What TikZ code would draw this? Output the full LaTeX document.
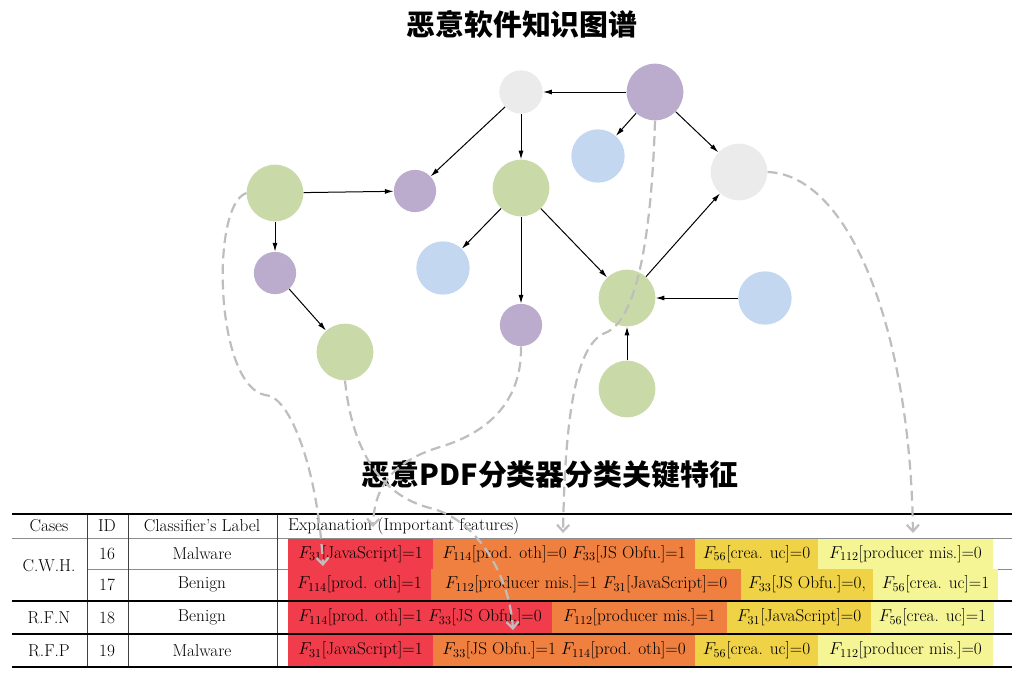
\RequirePackage{fix-cm}
\documentclass[tikz,border=0pt]{standalone}
\usepackage{fontspec}
\newfontfamily\cjk{Noto Sans CJK SC}
\usetikzlibrary{arrows.meta}
\newcommand{\feat}[3]{$F_{#1}$[#2]=#3}

\begin{document}
\begin{tikzpicture}[x=0.9pt,y=-0.9pt,
    ball/.style={circle, inner sep=0pt, minimum size=#1},
    gball/.style={ball=51pt, fill=nodegreen},
    pball/.style={ball=38pt, fill=nodepurple},
    bball/.style={ball=48pt, fill=nodeblue},
    wball/.style={ball=51pt, fill=nodegray},
    link/.style={line width=0.9pt, -{Latex[length=8pt,width=4.5pt]}},
    hint/.style={draw=hintgray, line width=2pt, dash pattern=on 9pt off 5pt,
        -{Straight Barb[length=6pt,width=11pt]}},
    heading/.style={font=\cjk\bfseries\fontsize{26}{30}\selectfont},
    cell/.style={font=\fontsize{15.5}{18}\selectfont, inner sep=0pt},
    thickrule/.style={line width=1.6pt},
    thinrule/.style={line width=0.8pt, draw=black!45}
]
    % Define colors
    \definecolor{nodegreen}{RGB}{201, 218, 168}
    \definecolor{nodepurple}{RGB}{187, 171, 205}
    \definecolor{nodeblue}{RGB}{195, 215, 240}
    \definecolor{nodegray}{RGB}{235, 235, 235}
    \definecolor{hintgray}{RGB}{190, 190, 190}
    \definecolor{cellred}{RGB}{240, 60, 75}
    \definecolor{cellorange}{RGB}{240, 128, 64}
    \definecolor{cellyellow}{RGB}{240, 210, 70}
    \definecolor{celllight}{RGB}{245, 245, 150}

    \useasboundingbox (0,0) rectangle (1029,672);

    % Titles
    \node[heading] (kgtitle) at (522,24) {恶意软件知识图谱};
    \node[heading] (tabtitle) at (550,475) {恶意PDF分类器分类关键特征};

    % Knowledge graph nodes
    \node[wball, ball=39pt] (wTop) at (521,92) {};
    \node[pball, ball=51pt] (pTop) at (655,92) {};
    \node[bball] (bTop) at (598,156) {};
    \node[wball] (wRight) at (739,172) {};
    \node[gball] (gLeft) at (275,193) {};
    \node[pball] (pMid) at (415,191) {};
    \node[gball] (gMid) at (521,188) {};
    \node[pball] (pLeft) at (275,273) {};
    \node[bball] (bMid) at (443,268) {};
    \node[pball] (pLow) at (521,325) {};
    \node[gball] (gLow) at (345,352) {};
    \node[gball] (gHub) at (627,298) {};
    \node[bball] (bRight) at (765,298) {};
    \node[gball] (gBot) at (627,389) {};

    % Knowledge graph edges
    \foreach \a/\b in {pTop/wTop, wTop/pMid, wTop/gMid, pTop/bTop, pTop/wRight,
        gLeft/pMid, gLeft/pLeft, pLeft/gLow, gMid/bMid, gMid/pLow, gMid/gHub,
        gHub/wRight, bRight/gHub, gBot/gHub} {
        \draw[link] (\a) -- (\b);
    }

    % Table rules under the colored cells
    \draw[thinrule] (12,538) -- (1012,538);
    \draw[thinrule] (87,569) -- (1012,569);
    \foreach \x in {87, 128, 277} {
        \draw[line width=0.8pt, draw=black!75] (\x,514) -- (\x,667);
    }

    % Colored feature cells
    \foreach \ya/\yb/\xa/\xb/\xc/\xd in {539/569/433/695/818/993,
        569/600/431/741/873/998, 602/633/552/727/871/994,
        635/666/433/695/818/993} {
        \fill[cellred] (288,\ya) rectangle (\xa,\yb);
        \fill[cellorange] (\xa,\ya) rectangle (\xb,\yb);
        \fill[cellyellow] (\xb,\ya) rectangle (\xc,\yb);
        \fill[celllight] (\xc,\ya) rectangle (\xd,\yb);
    }

    \foreach \y in {514, 601, 634, 667} {
        \draw[thickrule] (12,\y) -- (1012,\y);
    }

    % Header row
    \node[cell] (hCases) at (49,526) {Cases};
    \node[cell] (hId) at (107,526) {ID};
    \node[cell] (hLabel) at (202,526) {Classifier's Label};
    \node[cell, anchor=west] (hExpl) at (288,526) {Explanation (Important features)};

    % Left columns
    \node[cell] (caseA) at (49,566) {C.W.H.};
    \node[cell] (caseB) at (49,617.5) {R.F.N};
    \node[cell] (caseC) at (49,650.5) {R.F.P};
    \foreach \id/\lab/\y in {16/Malware/554, 17/Benign/584.5, 18/Benign/617.5, 19/Malware/650.5} {
        \node[cell] (id\id) at (107,\y) {\id};
        \node[cell] (lab\id) at (202,\y) {\lab};
    }

    % Feature texts
    \node[cell] (c16a) at (360.5,554) {\feat{31}{JavaScript}{1}};
    \node[cell] (c16b) at (564,554) {\feat{114}{prod. oth}{0} \feat{33}{JS Obfu.}{1}};
    \node[cell] (c16c) at (756.5,554) {\feat{56}{crea. uc}{0}};
    \node[cell] (c16d) at (905.5,554) {\feat{112}{producer mis.}{0}};

    \node[cell] (c17a) at (359.5,584.5) {\feat{114}{prod. oth}{1}};
    \node[cell] (c17b) at (586,584.5) {\feat{112}{producer mis.}{1} \feat{31}{JavaScript}{0}};
    \node[cell] (c17c) at (807,584.5) {\feat{33}{JS Obfu.}{0,}};
    \node[cell] (c17d) at (935.5,584.5) {\feat{56}{crea. uc}{1}};

    \node[cell] (c18a) at (420,617.5) {\feat{114}{prod. oth}{1} \feat{33}{JS Obfu.}{0}};
    \node[cell] (c18b) at (639.5,617.5) {\feat{112}{producer mis.}{1}};
    \node[cell] (c18c) at (799,617.5) {\feat{31}{JavaScript}{0}};
    \node[cell] (c18d) at (932.5,617.5) {\feat{56}{crea. uc}{1}};

    \node[cell] (c19a) at (360.5,650.5) {\feat{31}{JavaScript}{1}};
    \node[cell] (c19b) at (564,650.5) {\feat{33}{JS Obfu.}{1} \feat{114}{prod. oth}{0}};
    \node[cell] (c19c) at (756.5,650.5) {\feat{56}{crea. uc}{0}};
    \node[cell] (c19d) at (905.5,650.5) {\feat{112}{producer mis.}{0}};

    % Dashed hints from graph to table
    \coordinate (tipA) at (323,566);
    \coordinate (tipB) at (513,630);
    \coordinate (tipC) at (373,527);
    \coordinate (tipD) at (563,533);
    \coordinate (tipE) at (913,533);

    \draw[hint] (gLeft.west) .. controls (210,205) and (215,385) .. (265,395)
        .. controls (290,395) and (318,470) .. (tipA);
    \draw[hint] (gLow.south) .. controls (352,450) and (380,495) .. (430,508)
        .. controls (480,520) and (510,580) .. (tipB);
    \draw[hint] (pLow.south) .. controls (522,400) and (490,432) .. (440,447)
        .. controls (390,462) and (374,490) .. (tipC);
    \draw[hint] (pTop.south) .. controls (652,220) and (640,320) .. (605,333)
        .. controls (575,345) and (565,420) .. (tipD);
    \draw[hint] (wRight.east) .. controls (850,175) and (910,330) .. (tipE);

\end{tikzpicture}
\end{document}
